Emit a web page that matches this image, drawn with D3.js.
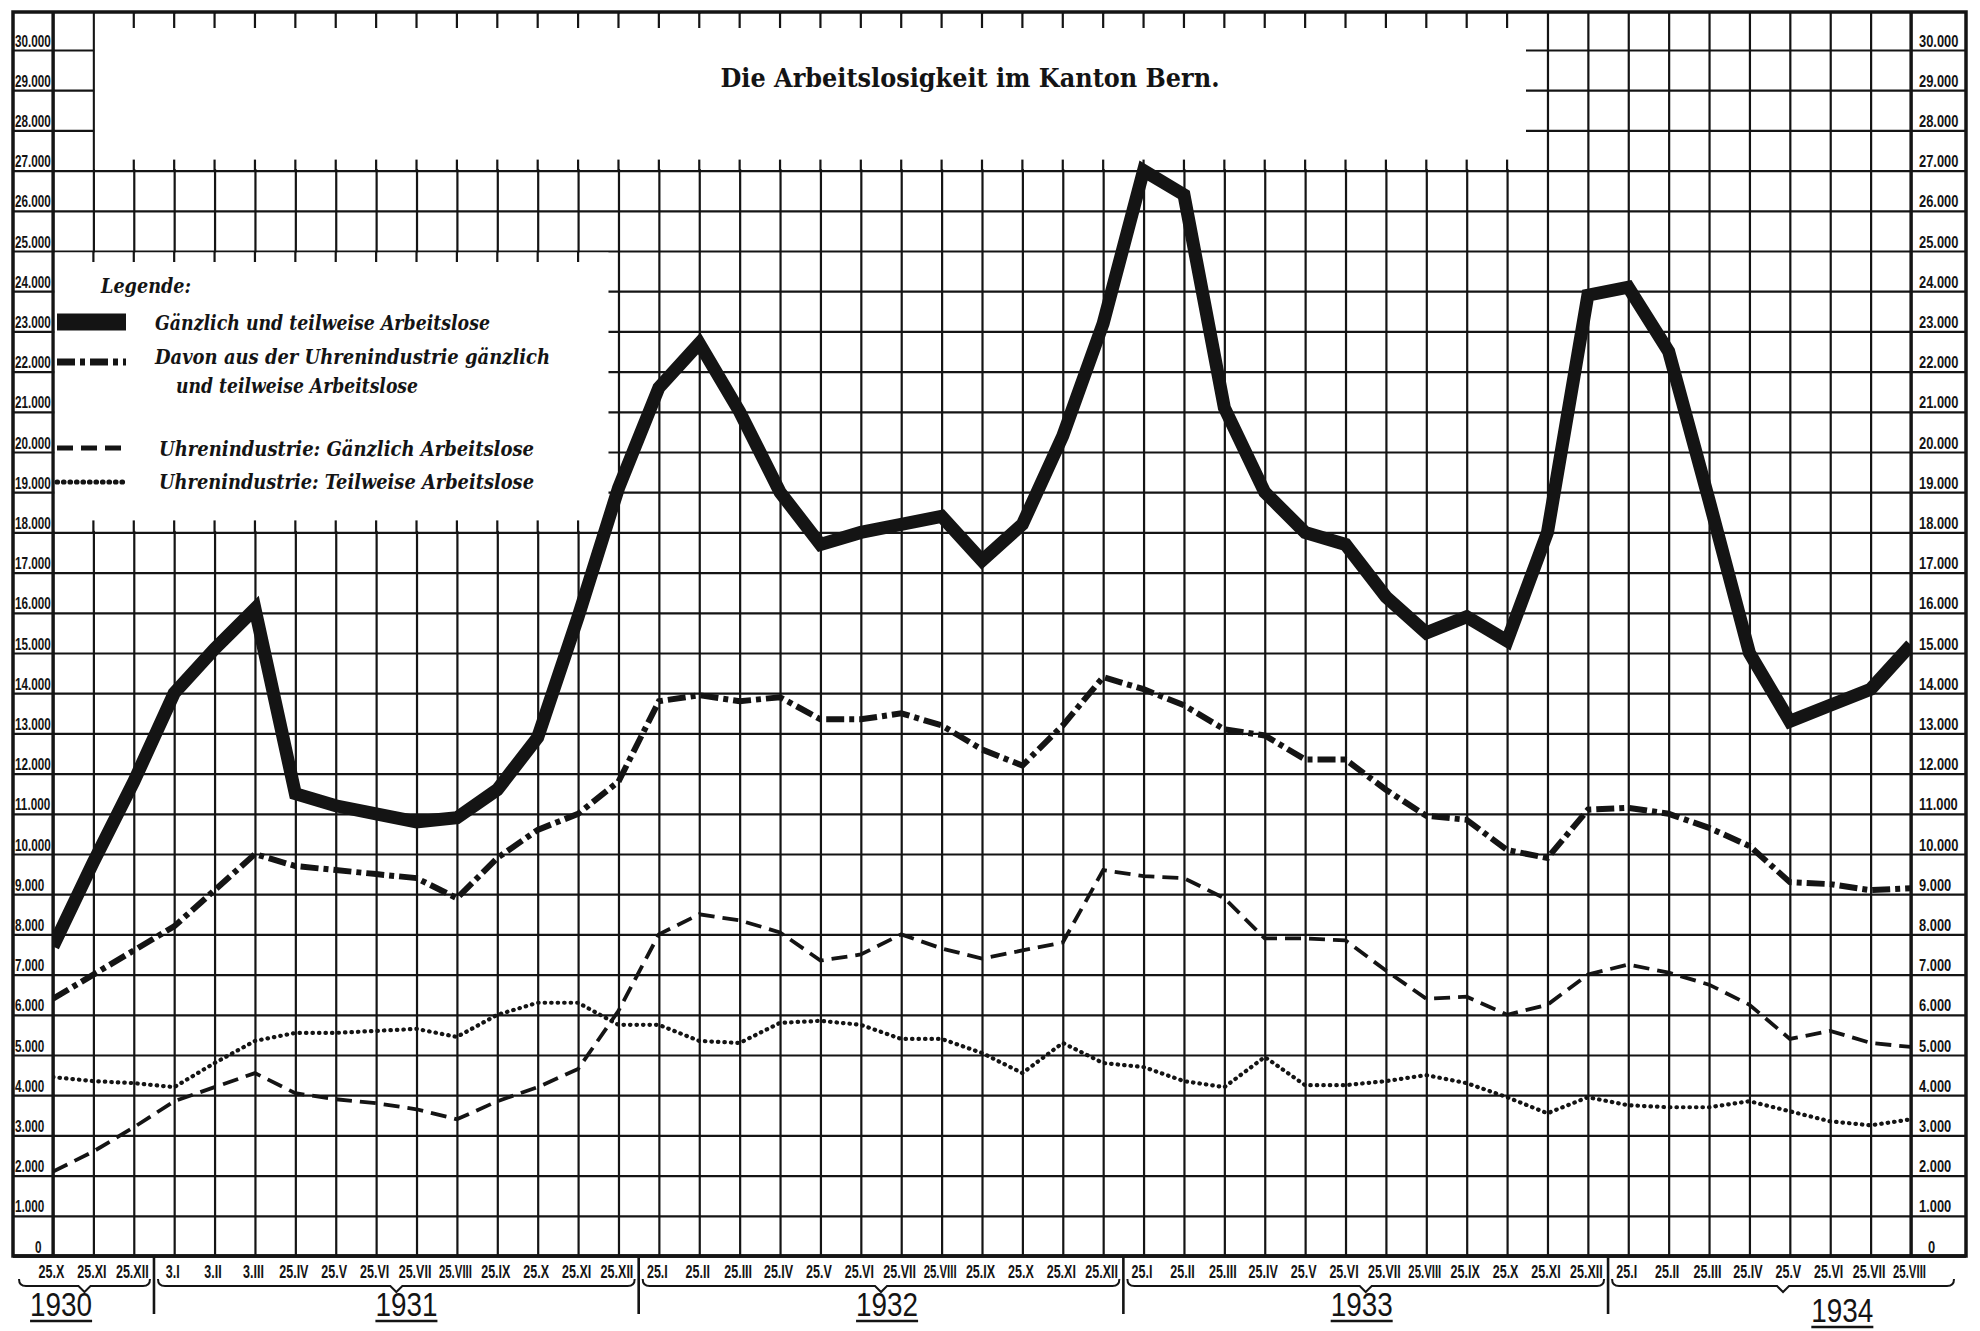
<!DOCTYPE html>
<html>
<head>
<meta charset="utf-8">
<script src="https://cdn.jsdelivr.net/npm/d3@7"></script>
<style>
  body { margin: 0; background: #fff; }
  svg { display: block; }
</style>
</head>
<body>
<svg id="chart"></svg>
<script>
//////////////
// Daten
//////////////

// Stichtage (25. des Monats, 1931 I-III am 3.)
var monthLabels = [
  "25.X", "25.XI", "25.XII",
  "3.I", "3.II", "3.III", "25.IV", "25.V", "25.VI", "25.VII", "25.VIII", "25.IX", "25.X", "25.XI", "25.XII",
  "25.I", "25.II", "25.III", "25.IV", "25.V", "25.VI", "25.VII", "25.VIII", "25.IX", "25.X", "25.XI", "25.XII",
  "25.I", "25.II", "25.III", "25.IV", "25.V", "25.VI", "25.VII", "25.VIII", "25.IX", "25.X", "25.XI", "25.XII",
  "25.I", "25.II", "25.III", "25.IV", "25.V", "25.VI", "25.VII", "25.VIII"
];

var yearLabels = ["1930", "1931", "1932", "1933", "1934"];
var yearFirstIndex = [0, 3, 15, 27, 39];

// Gänzlich und teilweise Arbeitslose
var totalValues = [
  7700, 9800, 11800,
  14000, 15100, 16100, 11500, 11200, 11000, 10800, 10900, 11600, 12900, 15900, 19100,
  21600, 22700, 21000, 19000, 17700, 18000, 18200, 18400, 17300, 18200, 20400, 23200,
  27000, 26400, 21100, 19000, 18000, 17700, 16400, 15500, 15900, 15300, 18000, 23900,
  24100, 22500, 18800, 15000, 13300, 13700, 14100, 15200
];

// Davon aus der Uhrenindustrie gänzlich und teilweise Arbeitslose
var watchTotalValues = [
  6400, 7000, 7600,
  8200, 9100, 10000, 9700, 9600, 9500, 9400, 8900, 9900, 10600, 11000, 11800,
  13800, 13950, 13800, 13900, 13350, 13350, 13500, 13200, 12600, 12200, 13200, 14400,
  14100, 13700, 13100, 12950, 12350, 12350, 11600, 10950, 10850, 10100, 9900, 11100,
  11150, 11000, 10650, 10200, 9300, 9250, 9100, 9150
];

// Uhrenindustrie: Gänzlich Arbeitslose
var watchFullValues = [
  2100, 2600, 3200,
  3850, 4200, 4550, 4050, 3900, 3800, 3650, 3400, 3850, 4200, 4650, 6100,
  8000, 8500, 8350, 8050, 7350, 7500, 8000, 7650, 7400, 7600, 7800, 9600,
  9450, 9400, 8900, 7900, 7900, 7850, 7100, 6400, 6450, 6000, 6250, 7000,
  7250, 7050, 6750, 6250, 5400, 5600, 5300, 5200
];

// Uhrenindustrie: Teilweise Arbeitslose
var watchPartialValues = [
  4450, 4350, 4300,
  4200, 4800, 5350, 5550, 5550, 5600, 5650, 5450, 6000, 6300, 6300, 5750,
  5750, 5350, 5300, 5800, 5850, 5750, 5400, 5400, 5050, 4550, 5300, 4800,
  4700, 4350, 4200, 4950, 4250, 4250, 4350, 4500, 4300, 3950, 3550, 3950,
  3750, 3700, 3700, 3850, 3600, 3350, 3250, 3400
];

var yTicks = d3.range(0, 30001, 1000);

var titleText = "Die Arbeitslosigkeit im Kanton Bern.";
var legendTitle = "Legende:";
var legendLabels = [
  ["Gänzlich und teilweise Arbeitslose"],
  ["Davon aus der Uhrenindustrie gänzlich", "und teilweise Arbeitslose"],
  ["Uhrenindustrie: Gänzlich Arbeitslose"],
  ["Uhrenindustrie: Teilweise Arbeitslose"]
];

//////////////
// Aufbau
//////////////

var W = 1980, H = 1331;
var ink = "#141414";
var frame = {left: 13, right: 1966, top: 12};

var x = d3.scaleLinear().domain([0, monthLabels.length - 1]).range([53, 1911]);
var y = d3.scaleLinear().domain([0, 30000]).range([1256, 50]);
frame.bottom = y(0);

var svg = d3.select("#chart")
    .attr("width", W)
    .attr("height", H);

svg.append("rect").attr("width", W).attr("height", H).attr("fill", "#fff");

// waagrechte Gitterlinien
var gridY = svg.append("g")
    .attr("transform", "translate(" + frame.left + ",0)")
    .call(d3.axisRight(y).tickValues(yTicks).tickSize(frame.right - frame.left).tickFormat(""));
gridY.select(".domain").remove();
gridY.selectAll("line").attr("stroke", ink).attr("stroke-width", 2.2);

// senkrechte Gitterlinien
var gridX = svg.append("g")
    .attr("transform", "translate(0," + frame.top + ")")
    .call(d3.axisBottom(x).tickValues(d3.range(monthLabels.length))
      .tickSize(frame.bottom - frame.top).tickFormat(""));
gridX.select(".domain").remove();
gridX.selectAll("line").attr("stroke", ink).attr("stroke-width", 2.2);

// Titelfeld (leer) und Legendenfeld ausschneiden
var titleBox = {x0: x(1) + 1.5, x1: 1526, y0: frame.top + 1.5, y1: y(27000) - 1.5};
var legendBox = {x0: x(0) + 1.5, x1: x(14) - 10, y0: y(25000) + 1.5, y1: y(18000) - 1.5};

[titleBox, legendBox].forEach(function(b) {
  svg.append("rect")
      .attr("x", b.x0).attr("y", b.y0)
      .attr("width", b.x1 - b.x0).attr("height", b.y1 - b.y0)
      .attr("fill", "#fff");
});

// kleine Striche am Rand der Felder
var ticks = svg.append("g").attr("stroke", ink).attr("stroke-width", 2.2);
d3.range(2, 37).forEach(function(i) {
  ticks.append("line").attr("x1", x(i)).attr("x2", x(i)).attr("y1", frame.top).attr("y2", frame.top + 16);
  ticks.append("line").attr("x1", x(i)).attr("x2", x(i)).attr("y1", y(27000) - 11).attr("y2", y(27000));
});
d3.range(1, 14).forEach(function(i) {
  ticks.append("line").attr("x1", x(i)).attr("x2", x(i)).attr("y1", y(25000)).attr("y2", y(25000) + 11);
  ticks.append("line").attr("x1", x(i)).attr("x2", x(i)).attr("y1", y(18000) - 12).attr("y2", y(18000));
});

// Rahmen
var border = svg.append("g").attr("stroke", ink).attr("fill", "none");
border.append("rect")
    .attr("x", frame.left).attr("y", frame.top)
    .attr("width", frame.right - frame.left).attr("height", frame.bottom - frame.top)
    .attr("stroke-width", 3.5);
[x(0), x(monthLabels.length - 1)].forEach(function(xx) {
  border.append("line").attr("x1", xx).attr("x2", xx)
      .attr("y1", frame.top).attr("y2", frame.bottom).attr("stroke-width", 3.2);
});
border.append("line").attr("x1", frame.left).attr("x2", frame.right)
    .attr("y1", frame.bottom).attr("y2", frame.bottom).attr("stroke-width", 3.5);

// gestauchte Schrift wie im Original (waagrecht skaliert)
function squeeze(sel, factor, maxLen) {
  sel.each(function() {
    var el = d3.select(this);
    var len = this.getComputedTextLength();
    var s = factor;
    if (maxLen) s = Math.min(s, maxLen / len);
    var tx = +el.attr("x") || 0, ty = +el.attr("y") || 0;
    el.attr("x", 0).attr("y", 0)
      .attr("transform", "translate(" + tx + "," + ty + ") scale(" + s + ",1)");
  });
}

function fmt(v) { return v === 0 ? "0" : (v / 1000) + ".000"; }

// Skalen links und rechts
[{tx: frame.left + 2, size: 17, f: 0.69, zeroX: 20},
 {tx: x(monthLabels.length - 1) + 8, size: 17, f: 0.76, zeroX: 9}].forEach(function(s) {
  var ax = svg.append("g")
      .attr("transform", "translate(" + s.tx + ",0)")
      .call(d3.axisRight(y).tickValues(yTicks).tickSize(0).tickFormat(fmt));
  ax.select(".domain").remove();
  ax.attr("font-family", "'Liberation Sans', Arial, sans-serif")
    .attr("font-size", s.size).attr("font-weight", "bold");
  var t = ax.selectAll("text")
      .attr("x", 0).attr("dy", null).attr("y", -4)
      .attr("fill", ink).attr("text-anchor", "start");
  t.filter(function(d) { return d === 0; }).attr("x", s.zeroX);
  squeeze(t, s.f);
});

// Kurven
var line = d3.line()
    .x(function(d, i) { return x(i); })
    .y(function(d) { return y(d); });

svg.append("clipPath").attr("id", "plot-clip")
  .append("rect")
    .attr("x", x(0)).attr("y", frame.top)
    .attr("width", x(monthLabels.length - 1) - x(0)).attr("height", frame.bottom - frame.top);

var series = [
  {values: totalValues, width: 13, dash: null, cap: "butt"},
  {values: watchTotalValues, width: 6, dash: "18,5,5,5", cap: "butt"},
  {values: watchFullValues, width: 3.8, dash: "16,8", cap: "butt"},
  {values: watchPartialValues, width: 4.2, dash: "0.5,6", cap: "round"}
];

var plot = svg.append("g").attr("clip-path", "url(#plot-clip)");
series.forEach(function(s) {
  plot.append("path")
      .datum(s.values)
      .attr("d", line)
      .attr("fill", "none")
      .attr("stroke", ink)
      .attr("stroke-width", s.width)
      .attr("stroke-dasharray", s.dash)
      .attr("stroke-linecap", s.cap)
      .attr("stroke-linejoin", "miter")
      .attr("stroke-miterlimit", 2.5);
});

//////////////
// Legende
//////////////
var legend = svg.append("g")
    .attr("font-family", "'DejaVu Serif', serif")
    .attr("font-style", "italic")
    .attr("font-weight", "bold")
    .attr("fill", ink);

legend.append("text")
    .attr("x", 101).attr("y", 293)
    .attr("font-size", 21)
    .attr("textLength", 90).attr("lengthAdjust", "spacingAndGlyphs")
    .text(legendTitle);

var legendRows = [
  {y: 322, lines: [{x: 155, y: 330, len: 335}]},
  {y: 362, lines: [{x: 155, y: 364, len: 395}, {x: 176, y: 393, len: 242}]},
  {y: 448, lines: [{x: 159, y: 456, len: 375}]},
  {y: 482, lines: [{x: 159, y: 489, len: 375}]}
];

legendRows.forEach(function(row, k) {
  if (k === 0) {
    legend.append("rect").attr("x", 57).attr("y", row.y - 8.5).attr("width", 69).attr("height", 17);
  } else {
    var s = series[k];
    legend.append("line")
        .attr("x1", 57).attr("x2", 126).attr("y1", row.y).attr("y2", row.y)
        .attr("stroke", ink)
        .attr("stroke-width", s.width + 1)
        .attr("stroke-dasharray", s.dash)
        .attr("stroke-linecap", s.cap);
  }
  row.lines.forEach(function(l, j) {
    legend.append("text")
        .attr("x", l.x).attr("y", l.y)
        .attr("font-size", 20)
        .attr("textLength", l.len).attr("lengthAdjust", "spacingAndGlyphs")
        .text(legendLabels[k][j]);
  });
});

// Titel
svg.append("text")
    .attr("x", 970).attr("y", 87)
    .attr("text-anchor", "middle")
    .attr("font-family", "'DejaVu Serif', serif")
    .attr("font-weight", "bold")
    .attr("font-size", 26)
    .attr("textLength", 499).attr("lengthAdjust", "spacingAndGlyphs")
    .attr("fill", ink)
    .text(titleText);

//////////////
// Zeitachse
//////////////
var xAxis = svg.append("g")
    .attr("transform", "translate(0," + frame.bottom + ")")
    .call(d3.axisBottom(x).tickValues(d3.range(monthLabels.length)).tickSize(0)
      .tickFormat(function(i) { return monthLabels[i]; }));
xAxis.select(".domain").remove();
xAxis.attr("font-family", "'Liberation Sans', Arial, sans-serif")
    .attr("font-size", 19).attr("font-weight", "bold");
var xt = xAxis.selectAll("text")
    .attr("dy", null).attr("y", 22).attr("x", -2)
    .attr("fill", ink);
squeeze(xt, 0.66, 33);

// Jahresklammern
var years = svg.append("g").attr("stroke", ink).attr("fill", "none");
var bracketY = 1286;
yearLabels.forEach(function(label, k) {
  var first = yearFirstIndex[k];
  var last = k < yearLabels.length - 1 ? yearFirstIndex[k + 1] - 1 : monthLabels.length - 1;
  var xa = k === 0 ? frame.left + 6 : x(first - 0.5) + 4;
  var xb = k === yearLabels.length - 1 ? frame.right - 12 : x(last + 0.5) - 4;
  var xm = (xa + xb) / 2;
  years.append("path")
      .attr("stroke-width", 2)
      .attr("d", "M" + xa + "," + (bracketY - 7) + "Q" + xa + "," + bracketY + " " + (xa + 7) + "," + bracketY +
        "L" + (xm - 6) + "," + bracketY + "L" + xm + "," + (bracketY + 6) + "L" + (xm + 6) + "," + bracketY +
        "L" + (xb - 7) + "," + bracketY + "Q" + xb + "," + bracketY + " " + xb + "," + (bracketY - 7));
  if (k > 0) {
    years.append("line")
        .attr("x1", x(first - 0.5)).attr("x2", x(first - 0.5))
        .attr("y1", frame.bottom).attr("y2", 1314)
        .attr("stroke-width", 2.6);
  }
});

// Jahreszahlen
var yearPos = [0.2, 8.75, 20.65, 32.4, 44.3];
yearLabels.forEach(function(label, k) {
  var base = k === yearLabels.length - 1 ? 1322 : 1316;
  var t = svg.append("text")
      .attr("x", x(yearPos[k])).attr("y", base)
      .attr("text-anchor", "middle")
      .attr("font-family", "'Liberation Sans', Arial, sans-serif")
      .attr("font-size", 34)
      .attr("fill", ink)
      .text(label);
  var w = t.node().getComputedTextLength() * 0.82;
  squeeze(t, 0.82);
  svg.append("line")
      .attr("x1", x(yearPos[k]) - w / 2).attr("x2", x(yearPos[k]) + w / 2)
      .attr("y1", base + 5).attr("y2", base + 5)
      .attr("stroke", ink).attr("stroke-width", 2.5);
});
</script>
</body>
</html>
